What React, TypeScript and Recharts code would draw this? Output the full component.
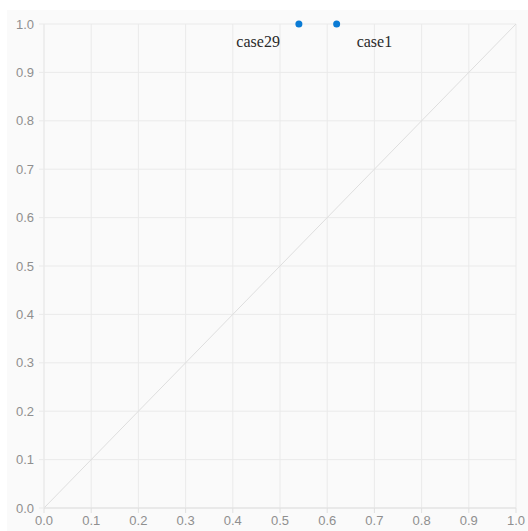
import React from "react";
import { ScatterChart, Scatter, XAxis, YAxis, CartesianGrid, ReferenceLine, LabelList } from "recharts";

const caseNames = ["case29", "case1"];
const xValues = [0.54, 0.62];
const yValues = [1.0, 1.0];
const labelSides = ["left", "right"];
const ticks = [0, 0.1, 0.2, 0.3, 0.4, 0.5, 0.6, 0.7, 0.8, 0.9, 1.0];
const diagonal = [{ x: 0, y: 0 }, { x: 1, y: 1 }];

const points = caseNames.map((name, i) => ({ name, x: xValues[i], y: yValues[i], side: labelSides[i] }));

const makeLabel = (side: string) => (props: any) => {
  const { x, y, width, height, value } = props;
  const cx = x + (width || 0) / 2;
  const cy = y + (height || 0) / 2;
  return (
    <text
      x={side === "left" ? cx - 19 : cx + 20}
      y={cy + 23}
      textAnchor={side === "left" ? "end" : "start"}
      fontFamily="'Liberation Serif', serif"
      fontSize={16}
      fill="#2a2a2a"
    >
      {value}
    </text>
  );
};

const tickStyle = { fill: "#8f8f8f", fontSize: 13, fontFamily: "'Liberation Sans', Arial, sans-serif" };

export default function App() {
  return (
    <div style={{ position: "absolute", left: 7, top: 10, width: 521, height: 521, background: "#fafafa" }}>
      <ScatterChart width={521} height={521} margin={{ top: 14, right: 12, left: 0, bottom: 0 }} style={{ overflow: "visible" }}>
        <CartesianGrid stroke="#eaeaea" />
        <XAxis
          type="number"
          dataKey="x"
          domain={[0, 1]}
          ticks={ticks}
          tickFormatter={(v: number) => v.toFixed(1)}
          height={23}
          tickSize={5}
          tickMargin={3}
          stroke="#e0e0e0"
          tick={tickStyle}
          interval={0}
        />
        <YAxis
          type="number"
          dataKey="y"
          domain={[0, 1]}
          ticks={ticks}
          tickFormatter={(v: number) => v.toFixed(1)}
          width={37}
          tickSize={5}
          tickMargin={5}
          stroke="#eaeaea"
          tick={tickStyle}
          interval={0}
        />
        <ReferenceLine segment={diagonal} stroke="#dedede" strokeWidth={1} ifOverflow="visible" />
        {points.map((p) => (
          <Scatter key={p.name} data={[p]} fill="#0a7bd5" isAnimationActive={false} shape={(s: any) => <circle cx={s.cx} cy={s.cy} r={3.5} fill="#0a7bd5" />}>
            <LabelList dataKey="name" content={makeLabel(p.side)} />
          </Scatter>
        ))}
      </ScatterChart>
    </div>
  );
}
